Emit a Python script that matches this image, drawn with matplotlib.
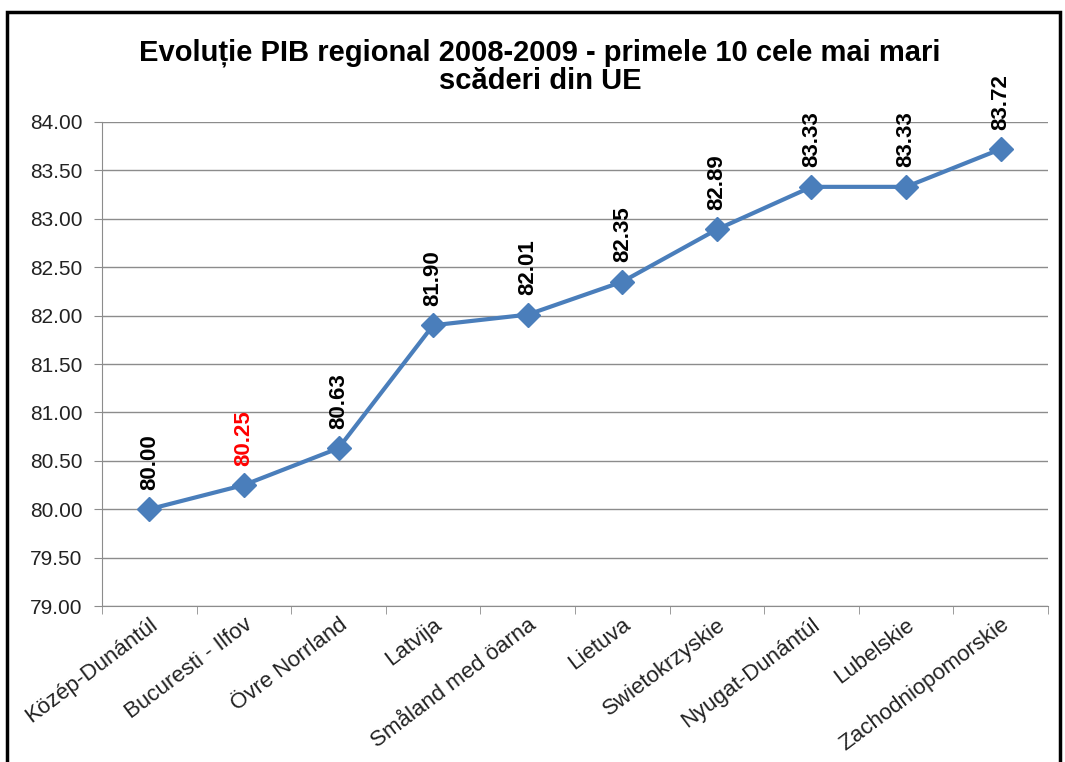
import matplotlib.pyplot as plt
from matplotlib.patches import Rectangle

plt.rcParams['font.family'] = ['Liberation Sans', 'DejaVu Sans']

# regions with the largest drop, 2008-2009
regions = ['Közép-Dunántúl', 'Bucuresti - Ilfov', 'Övre Norrland', 'Latvija',
           'Småland med öarna', 'Lietuva', 'Swietokrzyskie', 'Nyugat-Dunántúl',
           'Lubelskie', 'Zachodniopomorskie']
values = [80.00, 80.25, 80.63, 81.90, 82.01, 82.35, 82.89, 83.33, 83.33, 83.72]
label_colors = ['black', 'red'] + ['black'] * 8
yticks = [79.0, 79.5, 80.0, 80.5, 81.0, 81.5, 82.0, 82.5, 83.0, 83.5, 84.0]

blue = '#4a7ebb'
grid_c = '#8c8c8c'

fig = plt.figure(figsize=(10.65, 7.62), dpi=100)
ax = fig.add_axes([0.0958, 0.2047, 0.8882, 0.6352])

x = list(range(len(values)))
ax.plot(x, values, color=blue, lw=3, marker='D', ms=12, mfc=blue, mec=blue, zorder=3)

for xi, v, c in zip(x, values, label_colors):
    ax.annotate(f'{v:.2f}', (xi, v), xytext=(0, 14), textcoords='offset points',
                rotation=90, ha='center', va='bottom', fontsize=16,
                fontweight='bold', color=c)

ax.set_xlim(-0.5, len(values) - 0.5)
ax.set_ylim(79, 84)
ax.set_yticks(yticks)
ax.set_yticklabels([f'{t:.2f}' for t in yticks], fontsize=15, color='#222222')
ax.yaxis.grid(True, color=grid_c, lw=1)
ax.set_axisbelow(True)

# category labels centered, tick marks on boundaries
ax.set_xticks(x)
ax.set_xticklabels(regions, rotation=37, ha='right', rotation_mode='anchor',
                   fontsize=16, color='#222222')
ax.tick_params(axis='x', length=0, pad=6)
ax.set_xticks([i + 0.5 for i in range(-1, len(values))], minor=True)
ax.tick_params(axis='x', which='minor', length=6, color=grid_c)
ax.tick_params(axis='y', length=6, color=grid_c, pad=8)

for s in ['top', 'right']:
    ax.spines[s].set_visible(False)
ax.spines['left'].set_color(grid_c)
ax.spines['bottom'].set_color(grid_c)

fig.text(0.507, 0.913, 'Evoluție PIB regional 2008-2009 - primele 10 cele mai mari\nscăderi din UE',
         ha='center', va='center', fontsize=21, fontweight='bold', linespacing=1.0)

# chart frame
fig.patches.append(Rectangle((0.0066, -0.05), 0.9887, 1.034, transform=fig.transFigure,
                             fill=False, edgecolor='black', lw=2.5))

fig.savefig('out.png', dpi=100)
